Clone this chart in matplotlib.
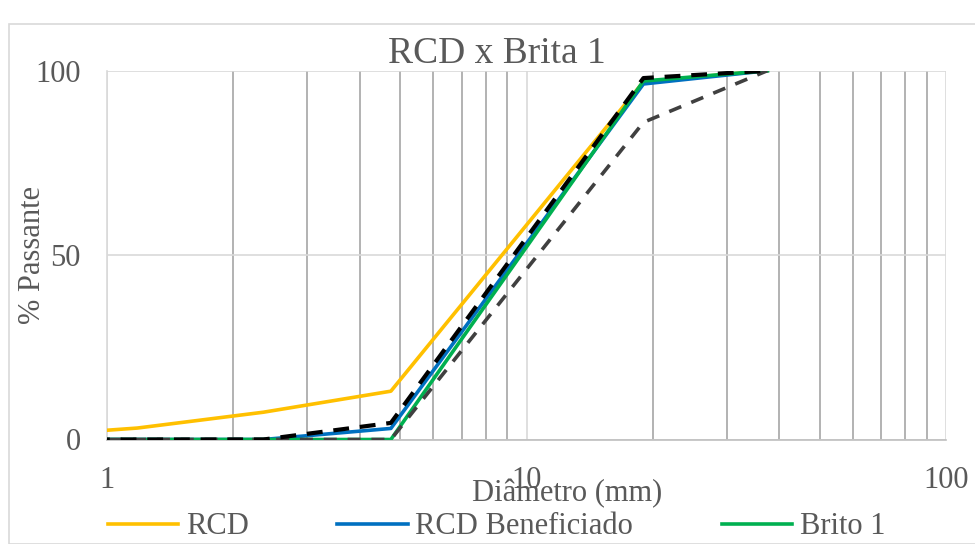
import matplotlib
matplotlib.use("Agg")
import matplotlib.pyplot as plt
from matplotlib.patches import Rectangle

plt.rcParams['font.family'] = ['Liberation Serif', 'DejaVu Serif']

# sieve openings (mm) and % passing
sieves = [0.6, 1.18, 2.36, 4.75, 19, 37.5]
rcd = [0.7, 3.1, 7.4, 13.1, 97.0, 100]
rcd_benef = [0, 0, 0, 3.0, 96.4, 100]
brita1 = [0, 0, 0, 0, 97.2, 100]
lim_sup = [0, 0, 0, 4.5, 98.0, 100]
lim_inf = [0, 0, 0, 0, 86.0, 100]

x_ticks = [1, 10, 100]
y_ticks = [0, 50, 100]
txt = '#595959'

fig = plt.figure(figsize=(9.75, 5.44), dpi=100)
ax = fig.add_axes([107 / 975, 1 - 439.5 / 544, 839 / 975, 368.8 / 544])

# chart area border (cut off on right/bottom like the reference)
fig.patches.append(Rectangle((9 / 975, 0), 1.2, 1 - 24 / 544, transform=fig.transFigure,
                             fill=False, edgecolor='#D9D9D9', linewidth=1.2, zorder=0))

ax.plot(sieves, rcd, color='#FFC000', linewidth=2.6, label='RCD', zorder=3)
ax.plot(sieves, rcd_benef, color='#0070C0', linewidth=2.6, label='RCD Beneficiado', zorder=4)
ax.plot(sieves, brita1, color='#00B050', linewidth=2.6, label='Brito 1', zorder=5)
ax.plot(sieves, lim_inf, color='#404040', linewidth=2.6, linestyle=(0, (3.6, 3.0)),
        label='_nolegend_', zorder=6)
ax.plot(sieves, lim_sup, color='black', linewidth=3.0, linestyle=(0, (3.8, 2.6)),
        label='_nolegend_', zorder=7)

ax.set_xscale('log')
ax.set_xlim(1, 100)
ax.set_ylim(0, 100)
ax.set_xticks(x_ticks)
ax.set_xticklabels([str(t) for t in x_ticks])
ax.set_yticks(y_ticks)
ax.set_yticklabels([str(t) for t in y_ticks])
ax.minorticks_on()
ax.yaxis.set_minor_locator(matplotlib.ticker.NullLocator())
ax.xaxis.set_minor_formatter(matplotlib.ticker.NullFormatter())

ax.grid(which='major', axis='both', color='#D9D9D9', linewidth=1.2, zorder=0)
ax.grid(which='minor', axis='x', color='#A6A6A6', linewidth=1.2, zorder=0)
ax.set_axisbelow(True)

ax.tick_params(which='both', length=0, colors=txt, labelsize=22)
ax.tick_params(axis='x', pad=19)
ax.tick_params(axis='y', pad=19)
for s in ['top', 'right']:
    ax.spines[s].set_visible(False)
ax.spines['left'].set_color('#D9D9D9')
ax.spines['bottom'].set_color('#BFBFBF')
ax.spines['left'].set_linewidth(1.2)
ax.spines['bottom'].set_linewidth(1.2)

ax.set_xlabel('Diâmetro (mm)', fontsize=22, color=txt)
ax.xaxis.set_label_coords((567 - 107) / 839, (439.5 - 494) / 368.8)
ax.xaxis.label.set_va('center')
ax.set_ylabel('% Passante', fontsize=22, color=txt)
ax.yaxis.set_label_coords((32 - 107) / 839, 0.5)
ax.yaxis.label.set_va('center')

fig.text(496.5 / 975, 1 - 54 / 544, 'RCD x Brita 1', fontsize=27, color=txt,
         ha='center', va='center')

fig.legend(loc='center left', bbox_to_anchor=(108 / 975, 1 - 527 / 544), ncol=3,
           frameon=False, fontsize=22, handlelength=2.3, handletextpad=0.25,
           columnspacing=2.9, labelcolor=txt, borderaxespad=0, borderpad=0)

fig.savefig('out.png', dpi=100)
